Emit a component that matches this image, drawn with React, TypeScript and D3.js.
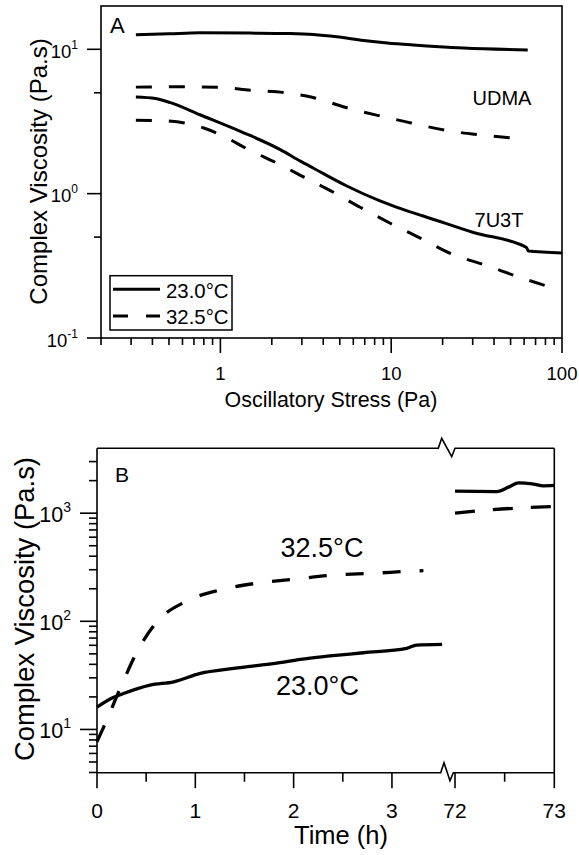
import React from "react";
import * as d3 from "d3";

// ---------- Panel A data (oscillatory stress sweep) ----------
const udma23: [number, number][] = [
  [0.32, 12.6], [0.5, 12.8], [0.76, 13.0], [1.5, 12.95], [2.5, 12.85], [3.5, 12.65],
  [4.8, 12.2], [6.9, 11.5], [9.5, 11.05], [13.5, 10.7], [26.5, 10.2], [63, 9.9],
];
const udma32: [number, number][] = [
  [0.32, 5.47], [0.6, 5.5], [1.0, 5.45], [1.5, 5.2], [2.4, 5.0], [3.44, 4.66],
  [5.36, 3.97], [8.36, 3.48], [13.1, 3.09], [20.7, 2.75], [32.3, 2.56], [60, 2.4],
];
const u7t23: [number, number][] = [
  [0.32, 4.67], [0.417, 4.56], [0.51, 4.27], [0.76, 3.52], [1.31, 2.7], [2.24, 2.02],
  [2.94, 1.68], [3.51, 1.5], [5.5, 1.13], [8.6, 0.89], [12.9, 0.747], [15.4, 0.7],
  [30.3, 0.538], [62, 0.424], [63.5, 0.4], [100, 0.388],
];
const u7t32: [number, number][] = [
  [0.32, 3.22], [0.45, 3.2], [0.62, 3.08], [0.8, 2.85], [1.0, 2.56], [1.46, 2.02],
  [2.33, 1.55], [2.94, 1.34], [4.4, 1.05], [6.59, 0.805], [9.87, 0.624], [14.8, 0.492],
  [22.7, 0.381], [35.5, 0.32], [54.6, 0.267], [88.5, 0.222],
];
const aXMajor = [1, 10, 100];
const aYMajor = [0.1, 1, 10];
const aYMajorExp = ["-1", "0", "1"];
const aYMinor = [0.5, 5];

// ---------- Panel B data (time sweep) ----------
const b23Left: [number, number][] = [
  [0, 16.1], [0.17, 19.8], [0.27, 21.5], [0.54, 25.7], [0.78, 27.6], [1.05, 33],
  [1.39, 36.7], [1.86, 41.4], [2.07, 44.5], [2.37, 47.8], [2.71, 51.2], [3.15, 56.2],
  [3.25, 60.3], [3.51, 61.2],
];
const b23Right: [number, number][] = [
  [72.0, 1600], [72.2, 1590], [72.42, 1585], [72.55, 1760], [72.64, 1910], [72.72, 1890],
  [72.79, 1860], [72.89, 1790], [73.0, 1805],
];
const b32Left: [number, number][] = [
  [0, 7.7], [0.085, 11.4], [0.237, 24.1], [0.407, 52.3], [0.61, 99], [0.9, 152],
  [1.25, 195], [1.625, 225], [2.0, 245], [2.41, 268], [2.81, 278], [3.22, 292], [3.32, 294],
];
const b32Right: [number, number][] = [
  [72.0, 1000], [72.35, 1073], [73.0, 1152],
];
const bXLeftMajor = [0, 1, 2, 3];
const bXLeftMinor = [0.5, 1.5, 2.5];
const bXRightMajor = [72, 73];
const bXRightMinor = [72.5];
const bYMajor = [10, 100, 1000];
const bYMajorExp = ["1", "2", "3"];

const FONT = "'Liberation Sans', Arial, Helvetica, sans-serif";

export default function App() {
  // ---- Panel A scales ----
  const xA = d3.scaleLog().domain([0.2, 100]).range([101, 562]);
  const yA = d3.scaleLog().domain([0.1, Math.pow(10, 1.3)]).range([338, 6]);
  const lineA = d3
    .line<[number, number]>()
    .x((d) => xA(d[0]))
    .y((d) => yA(d[1]))
    .curve(d3.curveMonotoneX);

  const aXMinor: number[] = [];
  [0.1, 1, 10].forEach((dec) => {
    for (let k = 2; k <= 9; k++) {
      const v = dec * k;
      if (v > 0.2 && v < 100 && !aXMajor.includes(v)) aXMinor.push(v);
    }
  });

  // ---- Panel B scales ----
  const yB = d3.scaleLog().domain([Math.pow(10, 0.6), Math.pow(10, 3.6)]).range([772.7, 448.3]);
  const xB1 = d3.scaleLinear().domain([0, 3.56]).range([97, 447]);
  const xB2 = d3.scaleLinear().domain([72, 73]).range([455, 554.3]);
  const lineB1 = d3
    .line<[number, number]>()
    .x((d) => xB1(d[0]))
    .y((d) => yB(d[1]))
    .curve(d3.curveMonotoneX);
  const lineB2 = d3
    .line<[number, number]>()
    .x((d) => xB2(d[0]))
    .y((d) => yB(d[1]))
    .curve(d3.curveMonotoneX);

  const bYMinor: number[] = [];
  [1, 10, 100, 1000].forEach((dec) => {
    for (let k = 2; k <= 9; k++) {
      const v = dec * k;
      if (v >= Math.pow(10, 0.6) && v <= Math.pow(10, 3.6)) bYMinor.push(v);
    }
  });

  const bTop = 448.3;
  const bBot = 772.7;
  const bLeft = 97;
  const bRight = 554.3;

  return (
    <svg
      width={579}
      height={855}
      style={{ position: "absolute", left: 0, top: 0, background: "#fff" }}
      fontFamily={FONT}
    >
      <rect x={0} y={0} width={579} height={855} fill="#fff" />

      {/* ================= PANEL A ================= */}
      <rect x={101} y={6} width={461} height={332} fill="none" stroke="#000" strokeWidth={1.6} />
      {/* x ticks */}
      {aXMajor.map((v) => (
        <g key={"axm" + v}>
          <line x1={xA(v)} x2={xA(v)} y1={338} y2={353} stroke="#000" strokeWidth={1.6} />
          <text x={xA(v)} y={380} fontSize={18.5} textAnchor="middle">
            {v}
          </text>
        </g>
      ))}
      <line x1={xA(0.2)} x2={xA(0.2)} y1={338} y2={345} stroke="#000" strokeWidth={1.6} />
      {aXMinor.map((v) => (
        <line key={"axn" + v} x1={xA(v)} x2={xA(v)} y1={338} y2={345} stroke="#000" strokeWidth={1.6} />
      ))}
      {/* y ticks */}
      {aYMajor.map((v, i) => (
        <g key={"aym" + v}>
          <line x1={87} x2={101} y1={yA(v)} y2={yA(v)} stroke="#000" strokeWidth={1.6} />
          <text x={78} y={yA(v) + 8.5} fontSize={18.5} textAnchor="end">
            10
            <tspan fontSize={12} dy={-9}>
              {aYMajorExp[i]}
            </tspan>
          </text>
        </g>
      ))}
      {aYMinor.map((v) => (
        <line key={"ayn" + v} x1={94} x2={101} y1={yA(v)} y2={yA(v)} stroke="#000" strokeWidth={1.6} />
      ))}
      {/* axis titles */}
      <text x={331} y={407} fontSize={21.4} textAnchor="middle">
        Oscillatory Stress (Pa)
      </text>
      <text
        transform={`translate(46.5,171.5) rotate(-90)`}
        fontSize={24}
        textAnchor="middle"
      >
        Complex Viscosity (Pa.s)
      </text>
      {/* series */}
      <path d={lineA(udma23) || ""} fill="none" stroke="#000" strokeWidth={3} />
      <path d={lineA(udma32) || ""} fill="none" stroke="#000" strokeWidth={3} strokeDasharray="16,17" />
      <path d={lineA(u7t23) || ""} fill="none" stroke="#000" strokeWidth={3} />
      <path d={lineA(u7t32) || ""} fill="none" stroke="#000" strokeWidth={3} strokeDasharray="16,17" />
      {/* labels */}
      <text x={110} y={33.3} fontSize={22}>
        A
      </text>
      <text x={502} y={105} fontSize={20} textAnchor="middle">
        UDMA
      </text>
      <text x={499} y={227} fontSize={20} textAnchor="middle">
        7U3T
      </text>
      {/* legend */}
      <rect x={110} y={275.7} width={122} height={54.3} fill="#fff" stroke="#000" strokeWidth={1.5} />
      <line x1={113} x2={160} y1={289.3} y2={289.3} stroke="#000" strokeWidth={3} />
      <line x1={113} x2={160} y1={316} y2={316} stroke="#000" strokeWidth={3} strokeDasharray="15,18" />
      <text x={166} y={298.3} fontSize={20.4}>
        23.0°C
      </text>
      <text x={166} y={323.5} fontSize={20.4}>
        32.5°C
      </text>

      {/* ================= PANEL B ================= */}
      {/* frame with breaks */}
      <line x1={bLeft} x2={bLeft} y1={bTop} y2={bBot} stroke="#000" strokeWidth={1.6} />
      <line x1={bRight} x2={bRight} y1={bTop} y2={bBot} stroke="#000" strokeWidth={1.6} />
      <polyline
        points={`${bLeft},${bTop} 438.3,${bTop} 441.7,438.3 451.7,456.7 455,${bTop} ${bRight},${bTop}`}
        fill="none"
        stroke="#000"
        strokeWidth={1.6}
      />
      <polyline
        points={`${bLeft},${bBot} 440.7,${bBot} 444,762.7 450,780.7 453.3,${bBot} ${bRight},${bBot}`}
        fill="none"
        stroke="#000"
        strokeWidth={1.6}
      />
      {/* x ticks */}
      {bXLeftMajor.map((v) => (
        <g key={"bxm" + v}>
          <line x1={xB1(v)} x2={xB1(v)} y1={bBot} y2={bBot + 15.5} stroke="#000" strokeWidth={1.6} />
          <text x={xB1(v)} y={818.3} fontSize={21} textAnchor="middle">
            {v}
          </text>
        </g>
      ))}
      {bXLeftMinor.map((v) => (
        <line key={"bxn" + v} x1={xB1(v)} x2={xB1(v)} y1={bBot} y2={bBot + 9} stroke="#000" strokeWidth={1.6} />
      ))}
      {bXRightMajor.map((v) => (
        <g key={"bxr" + v}>
          <line x1={xB2(v)} x2={xB2(v)} y1={bBot} y2={bBot + 15.5} stroke="#000" strokeWidth={1.6} />
          <text x={xB2(v)} y={818.3} fontSize={21} textAnchor="middle">
            {v}
          </text>
        </g>
      ))}
      {bXRightMinor.map((v) => (
        <line key={"bxrn" + v} x1={xB2(v)} x2={xB2(v)} y1={bBot} y2={bBot + 9} stroke="#000" strokeWidth={1.6} />
      ))}
      {/* y ticks */}
      {bYMajor.map((v, i) => (
        <g key={"bym" + v}>
          <line x1={80} x2={bLeft} y1={yB(v)} y2={yB(v)} stroke="#000" strokeWidth={1.6} />
          <text x={71} y={yB(v) + 8.5} fontSize={21.5} textAnchor="end">
            10
            <tspan fontSize={14} dy={-10}>
              {bYMajorExp[i]}
            </tspan>
          </text>
        </g>
      ))}
      {bYMinor.map((v) => (
        <line key={"byn" + v} x1={89} x2={bLeft} y1={yB(v)} y2={yB(v)} stroke="#000" strokeWidth={1.6} />
      ))}
      {/* axis titles */}
      <text x={341} y={844.3} fontSize={25.5} textAnchor="middle">
        Time (h)
      </text>
      <text transform={`translate(33.5,609) rotate(-90)`} fontSize={27.4} textAnchor="middle">
        Complex Viscosity (Pa.s)
      </text>
      {/* series */}
      <path d={lineB1(b23Left) || ""} fill="none" stroke="#000" strokeWidth={3.3} />
      <path d={lineB2(b23Right) || ""} fill="none" stroke="#000" strokeWidth={3.3} />
      <path d={lineB1(b32Left) || ""} fill="none" stroke="#000" strokeWidth={3.3} strokeDasharray="18,19" />
      <path d={lineB2(b32Right) || ""} fill="none" stroke="#000" strokeWidth={3.3} strokeDasharray="20,18" />
      {/* labels */}
      <text x={115} y={481.7} fontSize={21}>
        B
      </text>
      <text x={322} y={556.7} fontSize={27} textAnchor="middle">
        32.5°C
      </text>
      <text x={317.5} y={695} fontSize={27} textAnchor="middle">
        23.0°C
      </text>
    </svg>
  );
}
